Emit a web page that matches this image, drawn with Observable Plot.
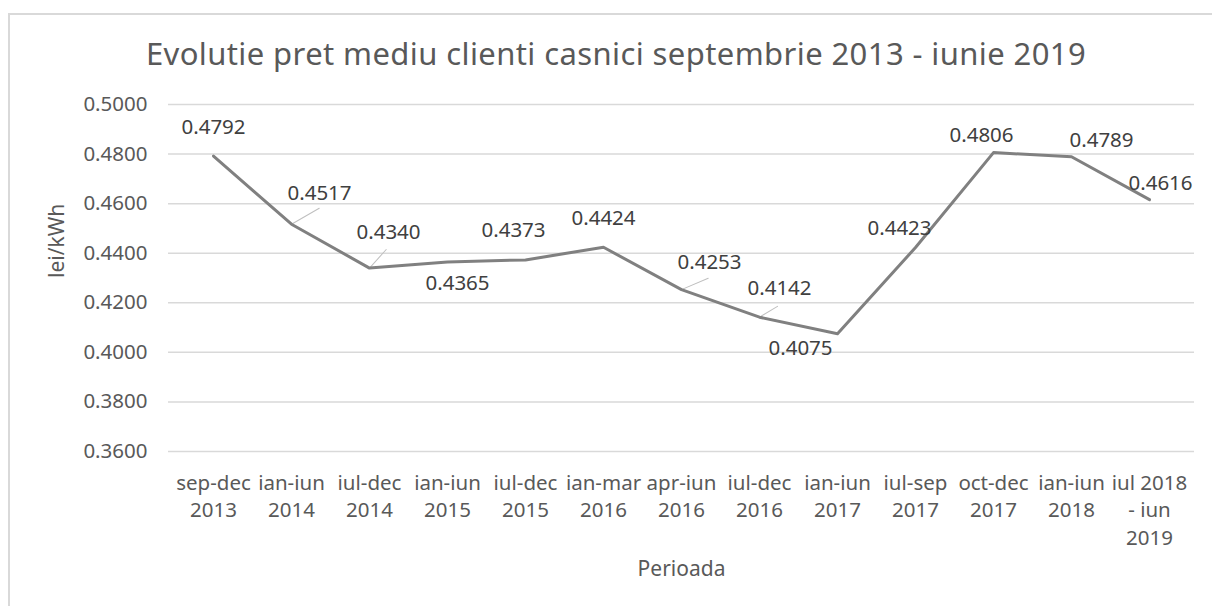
<!DOCTYPE html>
<html>
<head>
<meta charset="utf-8">
<script src="https://cdn.jsdelivr.net/npm/d3@7"></script>
<script src="https://cdn.jsdelivr.net/npm/@observablehq/plot@0.6"></script>
<style>
  html, body { margin: 0; padding: 0; background: #ffffff; }
  #wrap { position: relative; width: 1212px; height: 606px; overflow: hidden; font-family: "Noto Sans", sans-serif; }
  #frame { position: absolute; left: 8px; top: 13px; width: 1400px; height: 800px; border: 2px solid #d9d9d9; box-sizing: border-box; }
  #title { position: absolute; left: 0; top: 38px; width: 1232px; text-align: center; font-size: 31px; letter-spacing: 0.4px; line-height: 1; color: #595959; white-space: nowrap; }
  #chart { position: absolute; left: 0; top: 0; }
</style>
</head>
<body>
<div id="wrap">
  <div id="frame"></div>
  <div id="chart"></div>
  <div id="title">Evolutie pret mediu clienti casnici septembrie 2013 - iunie 2019</div>
</div>
<script>
// ---- data ----
const categories = [
  "sep-dec 2013", "ian-iun 2014", "iul-dec 2014", "ian-iun 2015", "iul-dec 2015",
  "ian-mar 2016", "apr-iun 2016", "iul-dec 2016", "ian-iun 2017", "iul-sep 2017",
  "oct-dec 2017", "ian-iun 2018", "iul 2018 - iun 2019"
];
const tickLabels = [
  "sep-dec\n2013", "ian-iun\n2014", "iul-dec\n2014", "ian-iun\n2015", "iul-dec\n2015",
  "ian-mar\n2016", "apr-iun\n2016", "iul-dec\n2016", "ian-iun\n2017", "iul-sep\n2017",
  "oct-dec\n2017", "ian-iun\n2018", "iul 2018\n- iun\n2019"
];
const values = [0.4792, 0.4517, 0.4340, 0.4365, 0.4373, 0.4424, 0.4253, 0.4142, 0.4075, 0.4423, 0.4806, 0.4789, 0.4616];
const yTicks = [0.36, 0.38, 0.40, 0.42, 0.44, 0.46, 0.48, 0.50];

// ---- label layout (pixel offsets of data labels from their points) ----
const labelOffsets = [
  [0, -29], [28, -31], [19, -36], [10, 22], [-12, -29], [0, -29], [28, -27],
  [20, -29], [-37, 15], [-16, -19], [-12, -17], [30, -16], [11, -16]
];
// leader lines: index of point, length (px), angle (deg clockwise from up)
const leaders = [
  {i: 1, len: 32, angle: 60},
  {i: 2, len: 25, angle: 42},
  {i: 6, len: 29, angle: 67},
  {i: 7, len: 21, angle: 59}
];

const labelFont = 20.5;
const textColor = "#595959";

const marks = [
  Plot.gridY(yTicks, {stroke: "#d9d9d9", strokeOpacity: 1, strokeWidth: 1.5}),
  Plot.axisY(yTicks, {
    tickSize: 0, tickPadding: 21, tickFormat: d => d.toFixed(4),
    fontSize: labelFont, fill: textColor, label: null
  }),
  Plot.axisX({
    tickSize: 0, tickPadding: 19,
    tickFormat: d => tickLabels[categories.indexOf(d)],
    fontSize: labelFont, lineHeight: 1.34, fill: textColor, label: null
  }),
  Plot.text(["lei/kWh"], {frameAnchor: "left", dx: -111, rotate: -90, fontSize: 21, fill: textColor}),
  Plot.text(["Perioada"], {frameAnchor: "bottom", dy: 124, fontSize: 21, fill: textColor}),
  Plot.vector(leaders, {
    x: d => categories[d.i], y: d => values[d.i],
    length: "len", rotate: "angle", anchor: "start",
    shape: "spike", r: 0, stroke: "#bfbfbf", fill: "none", strokeWidth: 1
  }),
  Plot.line(values.map((v, i) => ({c: categories[i], v})), {
    x: "c", y: "v", stroke: "#808080", strokeWidth: 3, strokeLinejoin: "round"
  }),
  ...values.map((v, i) => Plot.text([i], {
    x: j => categories[j], y: j => values[j],
    text: j => values[j].toFixed(4),
    dx: labelOffsets[i][0], dy: labelOffsets[i][1],
    fontSize: labelFont, fill: "#404040"
  }))
];

const chart = Plot.plot({
  width: 1212, height: 606,
  marginLeft: 168, marginRight: 18, marginTop: 104, marginBottom: 155,
  style: {fontFamily: "Noto Sans, sans-serif", background: "transparent", overflow: "visible"},
  x: {type: "point", domain: categories, padding: 0.5},
  y: {domain: [0.36, 0.50]},
  length: {type: "identity"},
  marks
});
document.getElementById("chart").appendChild(chart);
</script>
</body>
</html>
